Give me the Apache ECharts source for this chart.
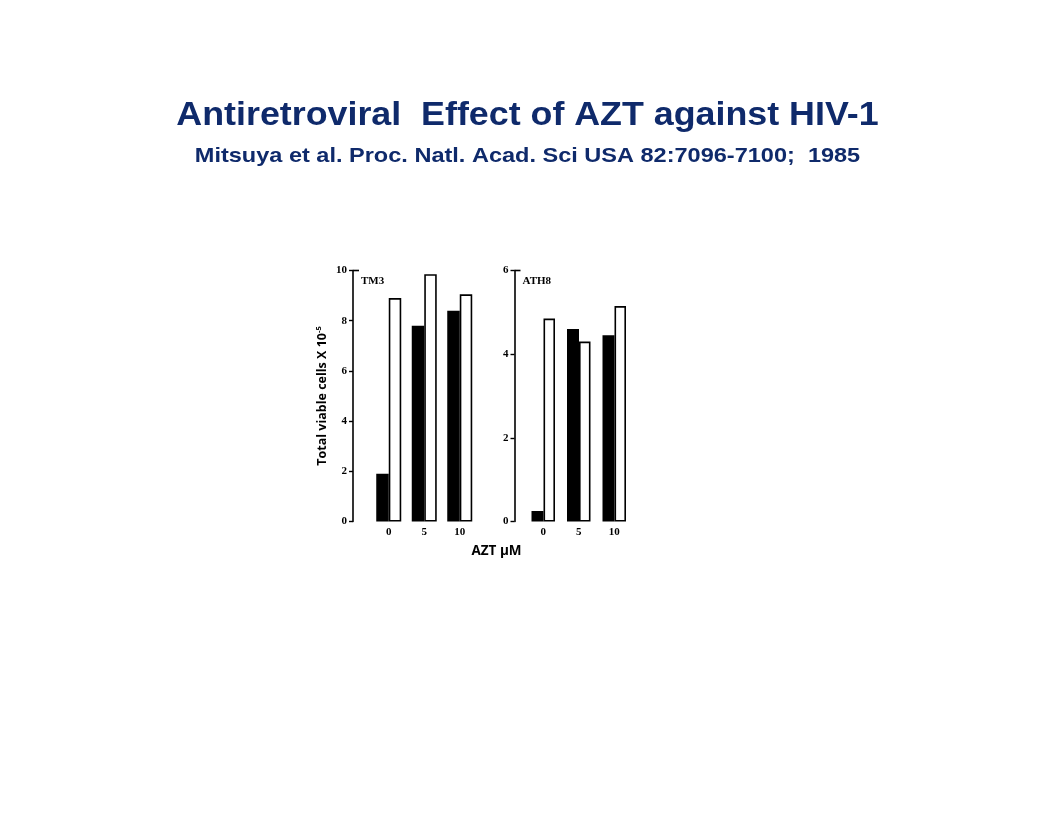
<!DOCTYPE html>
<html><head><meta charset="utf-8">
<script src="https://cdn.jsdelivr.net/npm/echarts@6/dist/echarts.min.js"></script>
<style>html,body{margin:0;padding:0;background:#fff}#c{width:1056px;height:816px}</style>
</head><body><div id="c"></div>
<script>
const categories = ['0', '5', '10'];
const tm3Black = [1.9, 7.8, 8.4];
const tm3White = [8.9, 9.85, 9.05];
const ath8Black = [0.25, 4.6, 4.45];
const ath8White = [4.85, 4.3, 5.15];
const tm3Ticks = [0, 2, 4, 6, 8, 10];
const ath8Ticks = [0, 2, 4, 6];
const titleText = 'Antiretroviral  Effect of AZT against HIV-1';
const subtitleText = 'Mitsuya et al. Proc. Natl. Acad. Sci USA 82:7096-7100;  1985';

const navy = '#0f2a6b';
const serif = '"Liberation Serif","DejaVu Serif",serif';
const sans = '"Liberation Sans",Arial,sans-serif';
const chart = echarts.init(document.getElementById('c'));

function yAx(gi, max, interval, offset, name) {
  return {
    type: 'value', gridIndex: gi, min: 0, max: max, interval: interval, offset: offset,
    axisLine: {show: true, lineStyle: {color: '#000', width: 1.6}},
    axisTick: {show: true, length: 4, lineStyle: {color: '#000', width: 1.4}},
    axisLabel: {color: '#000', fontFamily: serif, fontSize: 11, fontWeight: 'bold', margin: 6},
    splitLine: {show: false},
    name: name || '', nameLocation: 'middle', nameGap: 24, nameRotate: 90,
    nameTextStyle: {
      rich: {
        a: {fontFamily: '"Open Sans","Liberation Sans",sans-serif', fontWeight: 'bold', fontSize: 12.5, color: '#000'},
        s: {fontFamily: '"Open Sans","Liberation Sans",sans-serif', fontWeight: 'bold', fontSize: 7.5, color: '#000', verticalAlign: 'top', padding: [0,0,6,0]}
      }
    }
  };
}
function xAx(gi) {
  return {
    type: 'category', gridIndex: gi, data: categories, boundaryGap: true,
    axisLine: {show: false}, axisTick: {show: false},
    axisLabel: {color: '#000', fontFamily: serif, fontSize: 11, fontWeight: 'bold', margin: 5}
  };
}
function bar(gi, data, fill, w) {
  return {
    type: 'bar', xAxisIndex: gi, yAxisIndex: gi, data: data, barWidth: w, barGap: 0,
    itemStyle: {color: fill, borderColor: '#000', borderWidth: 1.6},
    silent: true, animation: false
  };
}

chart.setOption({
  animation: false,
  grid: [
    {left: 371, top: 270.5, width: 106.5, height: 251},
    {left: 525.5, top: 270.5, width: 106.5, height: 251}
  ],
  xAxis: [xAx(0), xAx(1)],
  yAxis: [
    yAx(0, tm3Ticks[tm3Ticks.length - 1], 2, 18, '{a|Total viable cells X 10}{s|-5}'),
    yAx(1, ath8Ticks[ath8Ticks.length - 1], 2, 11)
  ],
  series: [
    bar(0, tm3Black, '#000', 12.5), bar(0, tm3White, '#fff', 12.5),
    bar(1, ath8Black, '#000', 12), bar(1, ath8White, '#fff', 11.5)
  ]
});

// panel labels and top caps, placed from the axes' own scales
const p0 = chart.convertToPixel({gridIndex: 0}, [0, tm3Ticks[tm3Ticks.length - 1]]);
const p1 = chart.convertToPixel({gridIndex: 1}, [0, ath8Ticks[ath8Ticks.length - 1]]);
const ax0 = 371 - 18, ax1 = 525.5 - 11;
chart.setOption({
  graphic: [
    {type: 'text', x: 527.5, y: 116, scaleX: 1.085,
     style: {text: titleText, font: 'bold 33px ' + sans, fill: navy, textAlign: 'center', textVerticalAlign: 'middle'}},
    {type: 'text', x: 527.5, y: 156, scaleX: 1.12,
     style: {text: subtitleText, font: 'bold 21px ' + sans, fill: navy, textAlign: 'center', textVerticalAlign: 'middle'}},
    {type: 'line', shape: {x1: ax0, y1: p0[1], x2: ax0 + 6, y2: p0[1]}, style: {stroke: '#000', lineWidth: 1.6}},
    {type: 'line', shape: {x1: ax1, y1: p1[1], x2: ax1 + 6, y2: p1[1]}, style: {stroke: '#000', lineWidth: 1.6}},
    {type: 'text', x: ax0 + 8, y: p0[1] + 5, style: {text: 'TM3', font: 'bold 11px ' + serif, fill: '#000'}},
    {type: 'text', x: ax1 + 8, y: p1[1] + 5, style: {text: 'ATH8', font: 'bold 11px ' + serif, fill: '#000'}},
    {type: 'text', x: 496.5, y: 551, style: {text: 'AZT \u03bcM', font: 'bold 13.5px "Open Sans","Liberation Sans",sans-serif', fill: '#000', textAlign: 'center', textVerticalAlign: 'middle'}}
  ]
});
</script></body></html>
